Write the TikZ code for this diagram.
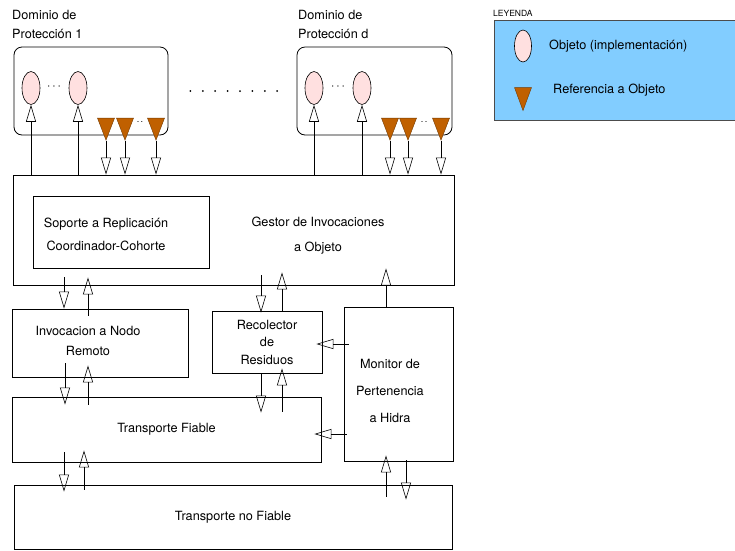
\documentclass[tikz,border=0pt]{standalone}
\usepackage{fontspec}
\setmainfont{TeX Gyre Heros}
\usetikzlibrary{shapes.geometric,arrows.meta,calc}
\definecolor{objpink}{RGB}{255,224,224}
\definecolor{refbrown}{RGB}{192,96,0}
\definecolor{legblue}{RGB}{130,205,255}

\tikzset{
  layer/.style={draw, line width=0.8pt, inner sep=0pt},
  obj/.style={ellipse, draw, fill=objpink, line width=0.6pt, minimum width=18pt, minimum height=33pt, inner sep=0pt},
  ref/.style={isosceles triangle, shape border rotate=-90, isosceles triangle stretches,
              fill=refbrown, draw=refbrown!60!black, line width=0.4pt,
              minimum width=17pt, minimum height=22pt, inner sep=0pt},
  flow/.style={line width=0.6pt, -{Triangle[open,length=17pt,width=10pt,line width=0.6pt]}},
  txt/.style={font=\fontsize{12.7}{19}\selectfont, align=center, inner sep=0pt},
}

\begin{document}
\begin{tikzpicture}[x=1pt,y=1pt]
            \useasboundingbox (0,0) rectangle (735,-550);

            % Dominio 1 (left)
            \node (dom1) at (91,-91) [layer, rounded corners=8pt, minimum width=154pt, minimum height=88pt] {};
            \node (lab1) at (12,-10) [txt, anchor=north west, align=left] {Dominio de\\Protección 1};
            \node (e11) at (31,-88) [obj] {};
            \node (e12) at (78,-88) [obj] {};
            \node (p11) at (54,-87) [txt] {$\cdots$};
            \node (r11) at (106,-124) [ref] {};
            \node (r12) at (125,-124) [ref] {};
            \node (r13) at (156,-124) [ref] {};
            \node (p12) at (140,-122) [txt, font=\fontsize{9}{9}\selectfont] {.\,.};

            % Dominio d (right)
            \node (domd) at (374.5,-91) [layer, rounded corners=8pt, minimum width=155pt, minimum height=88pt] {};
            \node (labd) at (298,-10) [txt, anchor=north west, align=left] {Dominio de\\Protección d};
            \node (ed1) at (314,-88) [obj] {};
            \node (ed2) at (362,-88) [obj] {};
            \node (pd1) at (338,-87) [txt] {$\cdots$};
            \node (rd1) at (390,-124) [ref] {};
            \node (rd2) at (408,-124) [ref] {};
            \node (rd3) at (441,-124) [ref] {};
            \node (pd2) at (424,-122) [txt, font=\fontsize{9}{9}\selectfont] {.\,.};

            % dots between domains
            \draw[line width=2pt, line cap=round, dash pattern=on 0pt off 12.4pt]
              ([xshift=22pt]dom1.east) -- ([xshift=-18pt]domd.west);

            % Leyenda
            \node (leytit) at (493,-13) [anchor=west, inner sep=0pt, font=\fontsize{8.5}{9}\selectfont] {LEYENDA};
            \node (ley) at (615.5,-70) [draw=black!70, fill=legblue, line width=0.8pt, minimum width=243pt, minimum height=100pt, inner sep=0pt] {};
            \node (leyobj) at (523,-46) [obj, minimum width=17pt, minimum height=32pt] {};
            \node (leyref) at (523,-93.5) [ref, minimum height=23pt] {};
            \node (leyobjt) at (549,-46) [txt, anchor=west] {Objeto (implementación)};
            \node (leyreft) at (553,-90) [txt, anchor=west] {Referencia a Objeto};

            % Capas
            \node (gestor) at (233.5,-230) [layer, minimum width=441pt, minimum height=110pt] {};
            \node (sop) at (121,-232) [layer, minimum width=176pt, minimum height=72pt] {};
            \node (soptxt) at (106,-234) [txt, font=\fontsize{12.7}{23}\selectfont] {Soporte a Replicación\\Coordinador-Cohorte};
            \node (gestxt) at (318,-236) [txt, font=\fontsize{12.7}{25}\selectfont] {Gestor de Invocaciones\\a Objeto};

            \node (inv) at (100,-343) [layer, minimum width=176pt, minimum height=68pt] {};
            \node (invtxt) at (88,-341) [txt, font=\fontsize{12.7}{20}\selectfont] {Invocacion a Nodo\\Remoto};

            \node (rec) at (267,-342) [layer, minimum width=110pt, minimum height=62pt, txt, font=\fontsize{12.7}{17.5}\selectfont] {Recolector\\de\\Residuos};

            \node (mon) at (398.5,-384) [layer, minimum width=109pt, minimum height=154pt] {};
            \node (montxt) at (390,-391) [txt, font=\fontsize{12.7}{27}\selectfont] {Monitor de\\Pertenencia\\a Hidra};

            \node (tf) at (166.5,-429.5) [layer, minimum width=309pt, minimum height=65pt, txt] {Transporte Fiable};
            \node (tnf) at (233,-517) [layer, minimum width=438pt, minimum height=64pt, txt] {Transporte no Fiable};

            % Dominios <-> Gestor
            \draw[flow] (e11.south |- gestor.north) -- (e11.south);
            \draw[flow] (e12.south |- gestor.north) -- (e12.south);
            \draw[flow] (ed1.south |- gestor.north) -- (ed1.south);
            \draw[flow] (ed2.south |- gestor.north) -- (ed2.south);
            \foreach \r in {r11,r12,r13,rd1,rd2,rd3}
              \draw[flow] (\r.south) -- (\r.south |- gestor.north);

            % Gestor <-> Invocacion
            \draw[flow] ([yshift=8pt]gestor.south -| 64,0) -- (64,0 |- inv.north);
            \draw[flow] ([yshift=-7pt]inv.north -| 88,0) -- ([yshift=8pt]gestor.south -| 88,0);
            % Invocacion <-> Transporte Fiable
            \draw[flow] ([yshift=14pt]inv.south -| 65,0) -- ([yshift=-8pt]tf.north -| 65,0);
            \draw[flow] ([yshift=-8pt]tf.north -| 88,0) -- ([yshift=12pt]inv.south -| 88,0);
            % Transporte Fiable <-> no Fiable
            \draw[flow] ([yshift=10pt]tf.south -| 64,0) -- ([yshift=-7pt]tnf.north -| 64,0);
            \draw[flow] ([yshift=-5pt]tnf.north -| 84,0) -- ([yshift=12pt]tf.south -| 84,0);

            % Gestor <-> Recolector
            \draw[flow] ([yshift=10pt]gestor.south -| 261,0) -- ([yshift=-2pt]rec.north -| 261,0);
            \draw[flow] ([yshift=-1pt]rec.north -| 282,0) -- ([yshift=13pt]gestor.south -| 282,0);
            % Recolector <-> Transporte Fiable
            \draw[flow] (rec.south -| 261,0) -- ([yshift=-16pt]tf.north -| 261,0);
            \draw[flow] ([yshift=-15pt]tf.north -| 282,0) -- ([yshift=5pt]rec.south -| 282,0);

            % Monitor
            \draw[flow] (mon.north -| 386,0) -- ([yshift=17pt]gestor.south -| 386,0);
            \draw[flow] ([xshift=5pt]mon.west |- 0,-344) -- ([xshift=-6pt]rec.east |- 0,-344);
            \draw[flow] ([xshift=3pt]mon.west |- 0,-434) -- ([xshift=-7pt]tf.east |- 0,-434);
            \draw[flow] ([yshift=-12pt]tnf.north -| 386,0) -- ([yshift=6pt]mon.south -| 386,0);
            \draw[flow] ([yshift=1pt]mon.south -| 406,0) -- ([yshift=-15pt]tnf.north -| 406,0);
        \end{tikzpicture}
\end{document}
